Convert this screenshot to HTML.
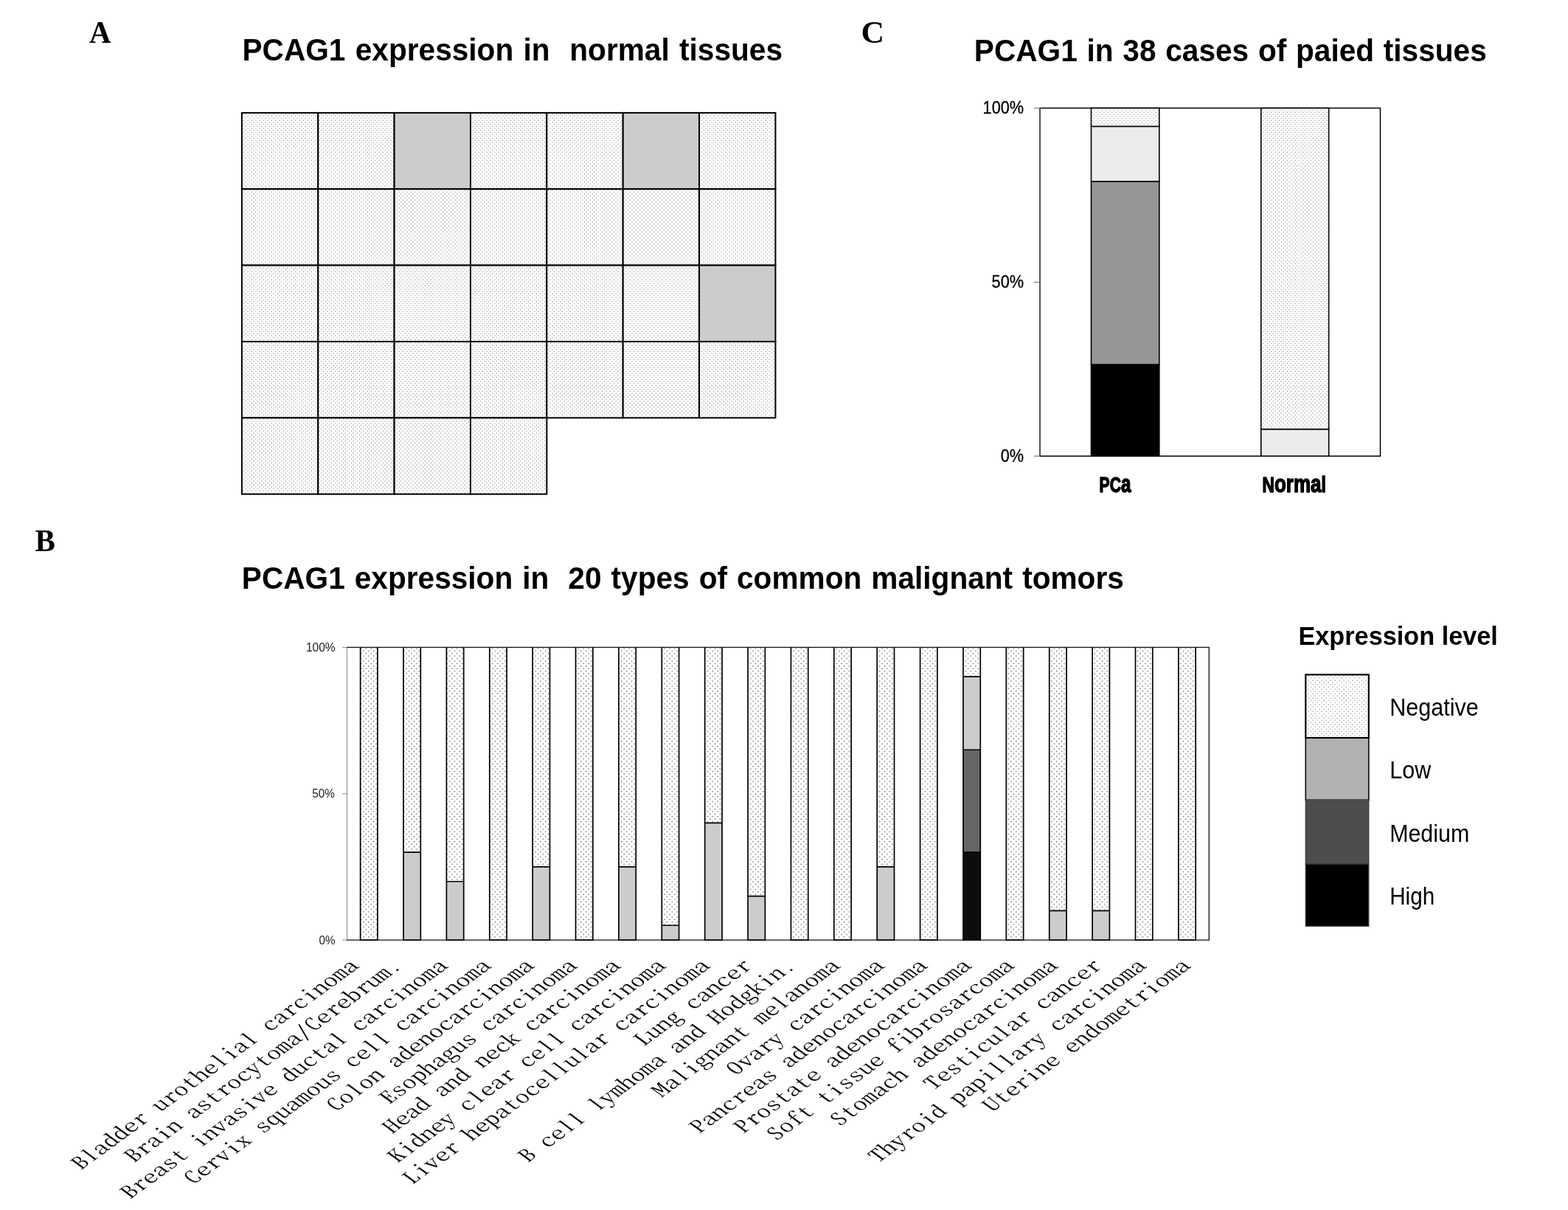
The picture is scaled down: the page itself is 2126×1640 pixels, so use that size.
<!DOCTYPE html>
<html lang="en"><head><meta charset="utf-8"><title>PCAG1 expression</title>
<style>
html,body{margin:0;padding:0;background:#fff;}
body{width:2126px;height:1640px;overflow:hidden;}
svg{display:block;}
.t{font-family:"Liberation Sans",sans-serif;font-weight:bold;font-size:42.25px;fill:#000;}
.p{font-family:"Liberation Serif",serif;font-weight:bold;font-size:42px;fill:#000;}
.ax{font-family:"Liberation Sans",sans-serif;fill:#000;stroke:#000;stroke-width:0.3px;}
.lg{font-family:"Liberation Sans",sans-serif;font-size:32.5px;fill:#000;}
.im{font-family:"Liberation Sans",sans-serif;font-weight:bold;fill:#000;stroke:#000;stroke-width:1.5px;stroke-linejoin:round;}
.xl{font-family:"Noto Serif CJK SC","Liberation Mono",monospace;font-feature-settings:"hwid" 1,"liga" 0,"clig" 0,"dlig" 0;font-variant-ligatures:none;font-weight:300;font-size:27.9px;fill:#000;text-anchor:end;}
</style></head><body>
<svg width="2126" height="1640" viewBox="0 0 2126 1640">
<defs>
<pattern id="dots" width="5.4" height="5.4" patternUnits="userSpaceOnUse">
<rect width="5.4" height="5.4" fill="#fff"/>
<rect x="0.6" y="0.6" width="1.1" height="1.1" fill="#707070"/>
<rect x="3.3" y="3.3" width="1.1" height="1.1" fill="#707070"/>
</pattern>
<pattern id="dotsB" width="6.86" height="6.8" patternUnits="userSpaceOnUse" patternTransform="translate(1.2,0.6)">
<rect width="6.86" height="6.8" fill="#fff"/>
<rect x="0.6" y="0.6" width="1.2" height="1.2" fill="#2a2a2a"/>
<rect x="4.03" y="4.0" width="1.2" height="1.2" fill="#2a2a2a"/>
</pattern>
<pattern id="dotsL" width="6" height="6" patternUnits="userSpaceOnUse">
<rect width="6" height="6" fill="#fff"/>
<rect x="0.6" y="0.6" width="1.1" height="1.1" fill="#707070"/>
<rect x="3.6" y="3.6" width="1.1" height="1.1" fill="#707070"/>
</pattern>
</defs>
<rect width="2126" height="1640" fill="#fff"/>
<text class="p" x="121.0" y="58" textLength="29.5" lengthAdjust="spacingAndGlyphs">A</text>
<text class="p" x="47.5" y="746.5" textLength="27.4" lengthAdjust="spacingAndGlyphs">B</text>
<text class="p" x="1167.6" y="58" textLength="31.5" lengthAdjust="spacingAndGlyphs">C</text>
<text class="t" x="328.5" y="82.0" textLength="732.5" lengthAdjust="spacingAndGlyphs" xml:space="preserve" style="word-spacing:2.1px">PCAG1 expression in  normal tissues</text>
<text class="t" x="1320.8" y="83.0" textLength="695" lengthAdjust="spacingAndGlyphs" style="word-spacing:1.5px">PCAG1 in 38 cases of paied tissues</text>
<text class="t" x="327.8" y="797.5" textLength="1196" lengthAdjust="spacingAndGlyphs" xml:space="preserve" style="word-spacing:1.8px">PCAG1 expression in  20 types of common malignant tomors</text>
<g stroke="#000" stroke-width="2">
<rect x="327.90" y="152.90" width="103.36" height="103.36" fill="url(#dots)"/>
<rect x="431.26" y="152.90" width="103.36" height="103.36" fill="url(#dots)"/>
<rect x="534.62" y="152.90" width="103.36" height="103.36" fill="#ccc"/>
<rect x="637.98" y="152.90" width="103.36" height="103.36" fill="url(#dots)"/>
<rect x="741.34" y="152.90" width="103.36" height="103.36" fill="url(#dots)"/>
<rect x="844.70" y="152.90" width="103.36" height="103.36" fill="#ccc"/>
<rect x="948.06" y="152.90" width="103.36" height="103.36" fill="url(#dots)"/>
<rect x="327.90" y="256.26" width="103.36" height="103.36" fill="url(#dots)"/>
<rect x="431.26" y="256.26" width="103.36" height="103.36" fill="url(#dots)"/>
<rect x="534.62" y="256.26" width="103.36" height="103.36" fill="url(#dots)"/>
<rect x="637.98" y="256.26" width="103.36" height="103.36" fill="url(#dots)"/>
<rect x="741.34" y="256.26" width="103.36" height="103.36" fill="url(#dots)"/>
<rect x="844.70" y="256.26" width="103.36" height="103.36" fill="url(#dots)"/>
<rect x="948.06" y="256.26" width="103.36" height="103.36" fill="url(#dots)"/>
<rect x="327.90" y="359.62" width="103.36" height="103.36" fill="url(#dots)"/>
<rect x="431.26" y="359.62" width="103.36" height="103.36" fill="url(#dots)"/>
<rect x="534.62" y="359.62" width="103.36" height="103.36" fill="url(#dots)"/>
<rect x="637.98" y="359.62" width="103.36" height="103.36" fill="url(#dots)"/>
<rect x="741.34" y="359.62" width="103.36" height="103.36" fill="url(#dots)"/>
<rect x="844.70" y="359.62" width="103.36" height="103.36" fill="url(#dots)"/>
<rect x="948.06" y="359.62" width="103.36" height="103.36" fill="#ccc"/>
<rect x="327.90" y="462.98" width="103.36" height="103.36" fill="url(#dots)"/>
<rect x="431.26" y="462.98" width="103.36" height="103.36" fill="url(#dots)"/>
<rect x="534.62" y="462.98" width="103.36" height="103.36" fill="url(#dots)"/>
<rect x="637.98" y="462.98" width="103.36" height="103.36" fill="url(#dots)"/>
<rect x="741.34" y="462.98" width="103.36" height="103.36" fill="url(#dots)"/>
<rect x="844.70" y="462.98" width="103.36" height="103.36" fill="url(#dots)"/>
<rect x="948.06" y="462.98" width="103.36" height="103.36" fill="url(#dots)"/>
<rect x="327.90" y="566.34" width="103.36" height="103.36" fill="url(#dots)"/>
<rect x="431.26" y="566.34" width="103.36" height="103.36" fill="url(#dots)"/>
<rect x="534.62" y="566.34" width="103.36" height="103.36" fill="url(#dots)"/>
<rect x="637.98" y="566.34" width="103.36" height="103.36" fill="url(#dots)"/>
</g>
<rect x="1410.1" y="146.5" width="461.4" height="471.7" fill="#fff" stroke="#000" stroke-width="1.5"/>
<line x1="1410.1" y1="146.5" x2="1410.1" y2="618.2" stroke="#555" stroke-width="1.7"/>
<line x1="1402.1" y1="618.2" x2="1410.1" y2="618.2" stroke="#777" stroke-width="1.2"/>
<line x1="1402.1" y1="382.4" x2="1410.1" y2="382.4" stroke="#777" stroke-width="1.2"/>
<line x1="1402.1" y1="146.5" x2="1410.1" y2="146.5" stroke="#777" stroke-width="1.2"/>
<rect x="1479.50" y="494.07" width="92.30" height="124.13" fill="#000" stroke="#000" stroke-width="1.6"/>
<rect x="1479.50" y="245.81" width="92.30" height="248.26" fill="#969696" stroke="#000" stroke-width="1.6"/>
<rect x="1479.50" y="171.33" width="92.30" height="74.48" fill="#ececec" stroke="#000" stroke-width="1.6"/>
<rect x="1479.50" y="146.50" width="92.30" height="24.83" fill="url(#dots)" stroke="#000" stroke-width="1.6"/>
<rect x="1709.80" y="581.64" width="91.90" height="36.56" fill="#ececec" stroke="#000" stroke-width="1.6"/>
<rect x="1709.80" y="146.50" width="91.90" height="435.14" fill="url(#dots)" stroke="#000" stroke-width="1.6"/>
<text class="ax" font-size="23.2" x="1332.6" y="153.8" textLength="55.5" lengthAdjust="spacingAndGlyphs">100%</text>
<text class="ax" font-size="23.2" x="1344.6" y="389.7" textLength="43.5" lengthAdjust="spacingAndGlyphs">50%</text>
<text class="ax" font-size="23.2" x="1356.8" y="625.5" textLength="31.3" lengthAdjust="spacingAndGlyphs">0%</text>
<text class="im" font-size="29.3" transform="translate(1490.6,667.0) scale(0.72,1)">PC<tspan font-size="33.5">a</tspan></text>
<text class="im" font-size="29.3" transform="translate(1711.6,667.0) scale(0.775,1)">N<tspan font-size="33.5">orma</tspan>l</text>
<rect x="470.5" y="877.4" width="1168.8" height="396.7" fill="#fff" stroke="none"/>
<rect x="488.65" y="877.40" width="23.30" height="396.70" fill="url(#dotsB)"/>
<path d="M488.65,877.40V1274.10H511.95V877.40" fill="none" stroke="#000" stroke-width="1.7"/>
<rect x="547.03" y="1155.09" width="23.30" height="119.01" fill="#ccc"/>
<rect x="547.03" y="877.40" width="23.30" height="277.69" fill="url(#dotsB)"/>
<path d="M547.03,877.40V1274.10H570.33V877.40M547.03,1155.09H570.33" fill="none" stroke="#000" stroke-width="1.7"/>
<rect x="605.41" y="1194.76" width="23.30" height="79.34" fill="#ccc"/>
<rect x="605.41" y="877.40" width="23.30" height="317.36" fill="url(#dotsB)"/>
<path d="M605.41,877.40V1274.10H628.71V877.40M605.41,1194.76H628.71" fill="none" stroke="#000" stroke-width="1.7"/>
<rect x="663.79" y="877.40" width="23.30" height="396.70" fill="url(#dotsB)"/>
<path d="M663.79,877.40V1274.10H687.09V877.40" fill="none" stroke="#000" stroke-width="1.7"/>
<rect x="722.17" y="1174.92" width="23.30" height="99.17" fill="#ccc"/>
<rect x="722.17" y="877.40" width="23.30" height="297.52" fill="url(#dotsB)"/>
<path d="M722.17,877.40V1274.10H745.47V877.40M722.17,1174.92H745.47" fill="none" stroke="#000" stroke-width="1.7"/>
<rect x="780.55" y="877.40" width="23.30" height="396.70" fill="url(#dotsB)"/>
<path d="M780.55,877.40V1274.10H803.85V877.40" fill="none" stroke="#000" stroke-width="1.7"/>
<rect x="838.93" y="1174.92" width="23.30" height="99.17" fill="#ccc"/>
<rect x="838.93" y="877.40" width="23.30" height="297.52" fill="url(#dotsB)"/>
<path d="M838.93,877.40V1274.10H862.23V877.40M838.93,1174.92H862.23" fill="none" stroke="#000" stroke-width="1.7"/>
<rect x="897.31" y="1254.26" width="23.30" height="19.83" fill="#ccc"/>
<rect x="897.31" y="877.40" width="23.30" height="376.86" fill="url(#dotsB)"/>
<path d="M897.31,877.40V1274.10H920.61V877.40M897.31,1254.26H920.61" fill="none" stroke="#000" stroke-width="1.7"/>
<rect x="955.69" y="1115.42" width="23.30" height="158.68" fill="#ccc"/>
<rect x="955.69" y="877.40" width="23.30" height="238.02" fill="url(#dotsB)"/>
<path d="M955.69,877.40V1274.10H978.99V877.40M955.69,1115.42H978.99" fill="none" stroke="#000" stroke-width="1.7"/>
<rect x="1014.07" y="1214.60" width="23.30" height="59.50" fill="#ccc"/>
<rect x="1014.07" y="877.40" width="23.30" height="337.19" fill="url(#dotsB)"/>
<path d="M1014.07,877.40V1274.10H1037.37V877.40M1014.07,1214.60H1037.37" fill="none" stroke="#000" stroke-width="1.7"/>
<rect x="1072.45" y="877.40" width="23.30" height="396.70" fill="url(#dotsB)"/>
<path d="M1072.45,877.40V1274.10H1095.75V877.40" fill="none" stroke="#000" stroke-width="1.7"/>
<rect x="1130.83" y="877.40" width="23.30" height="396.70" fill="url(#dotsB)"/>
<path d="M1130.83,877.40V1274.10H1154.13V877.40" fill="none" stroke="#000" stroke-width="1.7"/>
<rect x="1189.21" y="1174.92" width="23.30" height="99.17" fill="#ccc"/>
<rect x="1189.21" y="877.40" width="23.30" height="297.52" fill="url(#dotsB)"/>
<path d="M1189.21,877.40V1274.10H1212.51V877.40M1189.21,1174.92H1212.51" fill="none" stroke="#000" stroke-width="1.7"/>
<rect x="1247.59" y="877.40" width="23.30" height="396.70" fill="url(#dotsB)"/>
<path d="M1247.59,877.40V1274.10H1270.89V877.40" fill="none" stroke="#000" stroke-width="1.7"/>
<rect x="1305.97" y="1155.09" width="23.30" height="119.01" fill="#0d0d0d"/>
<rect x="1305.97" y="1016.24" width="23.30" height="138.84" fill="#666"/>
<rect x="1305.97" y="917.07" width="23.30" height="99.17" fill="#ccc"/>
<rect x="1305.97" y="877.40" width="23.30" height="39.67" fill="url(#dotsB)"/>
<path d="M1305.97,877.40V1274.10H1329.27V877.40M1305.97,1155.09H1329.27M1305.97,1016.24H1329.27M1305.97,917.07H1329.27" fill="none" stroke="#000" stroke-width="1.7"/>
<rect x="1364.35" y="877.40" width="23.30" height="396.70" fill="url(#dotsB)"/>
<path d="M1364.35,877.40V1274.10H1387.65V877.40" fill="none" stroke="#000" stroke-width="1.7"/>
<rect x="1422.73" y="1234.43" width="23.30" height="39.67" fill="#ccc"/>
<rect x="1422.73" y="877.40" width="23.30" height="357.03" fill="url(#dotsB)"/>
<path d="M1422.73,877.40V1274.10H1446.03V877.40M1422.73,1234.43H1446.03" fill="none" stroke="#000" stroke-width="1.7"/>
<rect x="1481.11" y="1234.43" width="23.30" height="39.67" fill="#ccc"/>
<rect x="1481.11" y="877.40" width="23.30" height="357.03" fill="url(#dotsB)"/>
<path d="M1481.11,877.40V1274.10H1504.41V877.40M1481.11,1234.43H1504.41" fill="none" stroke="#000" stroke-width="1.7"/>
<rect x="1539.49" y="877.40" width="23.30" height="396.70" fill="url(#dotsB)"/>
<path d="M1539.49,877.40V1274.10H1562.79V877.40" fill="none" stroke="#000" stroke-width="1.7"/>
<rect x="1597.87" y="877.40" width="23.30" height="396.70" fill="url(#dotsB)"/>
<path d="M1597.87,877.40V1274.10H1621.17V877.40" fill="none" stroke="#000" stroke-width="1.7"/>
<line x1="470.5" y1="877.4" x2="470.5" y2="1274.1" stroke="#8c8c8c" stroke-width="1"/>
<path d="M470.0,877.4 H1639.3 V1274.1 H470.0" fill="none" stroke="#111" stroke-width="1.3"/>
<line x1="464.2" y1="1274.1" x2="470.5" y2="1274.1" stroke="#8c8c8c" stroke-width="1.1"/>
<line x1="464.2" y1="1075.8" x2="470.5" y2="1075.8" stroke="#8c8c8c" stroke-width="1.1"/>
<line x1="464.2" y1="877.4" x2="470.5" y2="877.4" stroke="#8c8c8c" stroke-width="1.1"/>
<text class="ax" style="stroke:none;fill:#1a1a1a" font-size="16.9" x="414.9" y="882.8" textLength="39.8" lengthAdjust="spacingAndGlyphs">100%</text>
<text class="ax" style="stroke:none;fill:#1a1a1a" font-size="16.9" x="423.3" y="1081.2" textLength="30.6" lengthAdjust="spacingAndGlyphs">50%</text>
<text class="ax" style="stroke:none;fill:#1a1a1a" font-size="16.9" x="432.5" y="1279.5" textLength="22.0" lengthAdjust="spacingAndGlyphs">0%</text>
<text class="xl" transform="translate(488.0,1310.3) scale(1.371,1) rotate(-45) scale(1,0.81)">Bladder urothelial carcinoma</text>
<text class="xl" transform="translate(546.6,1310.3) scale(1.371,1) rotate(-45) scale(1,0.81)">Brain astrocytoma/Cerebrum.</text>
<text class="xl" transform="translate(608.9,1310.3) scale(1.371,1) rotate(-45) scale(1,0.81)">Breast invasive ductal carcinoma</text>
<text class="xl" transform="translate(667.5,1310.3) scale(1.371,1) rotate(-45) scale(1,0.81)">Cervix squamous cell carcinoma</text>
<text class="xl" transform="translate(725.8,1310.3) scale(1.371,1) rotate(-45) scale(1,0.81)">Colon adenocarcinoma</text>
<text class="xl" transform="translate(784.2,1310.3) scale(1.371,1) rotate(-45) scale(1,0.81)">Esophagus carcinoma</text>
<text class="xl" transform="translate(842.9,1310.3) scale(1.371,1) rotate(-45) scale(1,0.81)">Head and neck carcinoma</text>
<text class="xl" transform="translate(904.2,1310.3) scale(1.371,1) rotate(-45) scale(1,0.81)">Kidney clear cell carcinoma</text>
<text class="xl" transform="translate(964.3,1310.3) scale(1.371,1) rotate(-45) scale(1,0.81)">Liver hepatocellular carcinoma</text>
<text class="xl" transform="translate(1021.3,1310.3) scale(1.371,1) rotate(-45) scale(1,0.81)">Lung cancer</text>
<text class="xl" transform="translate(1080.4,1310.3) scale(1.371,1) rotate(-45) scale(1,0.81)">B cell lymhoma and Hodgkin.</text>
<text class="xl" transform="translate(1140.5,1310.3) scale(1.371,1) rotate(-45) scale(1,0.81)">Malignant melanoma</text>
<text class="xl" transform="translate(1200.6,1310.3) scale(1.371,1) rotate(-45) scale(1,0.81)">Ovary carcinoma</text>
<text class="xl" transform="translate(1259.0,1310.3) scale(1.371,1) rotate(-45) scale(1,0.81)">Pancreas adenocarcinoma</text>
<text class="xl" transform="translate(1318.7,1310.3) scale(1.371,1) rotate(-45) scale(1,0.81)">Prostate adenocarcinoma</text>
<text class="xl" transform="translate(1376.7,1310.3) scale(1.371,1) rotate(-45) scale(1,0.81)">Soft tissue fibrosarcoma</text>
<text class="xl" transform="translate(1435.8,1310.3) scale(1.371,1) rotate(-45) scale(1,0.81)">Stomach adenocarcinoma</text>
<text class="xl" transform="translate(1495.7,1310.3) scale(1.371,1) rotate(-45) scale(1,0.81)">Testicular cancer</text>
<text class="xl" transform="translate(1555.8,1310.3) scale(1.371,1) rotate(-45) scale(1,0.81)">Thyroid papillary carcinoma</text>
<text class="xl" transform="translate(1615.8,1310.3) scale(1.371,1) rotate(-45) scale(1,0.81)">Uterine endometrioma</text>
<text class="t" style="font-size:35.9px" x="1760.4" y="873.8" textLength="270.5" lengthAdjust="spacingAndGlyphs">Expression level</text>
<rect x="1770.3" y="1084.2" width="85.5" height="86.9" fill="#4d4d4d" stroke="#3a3a3a" stroke-width="1.3"/>
<rect x="1770.3" y="1171.1" width="85.5" height="84.2" fill="#000" stroke="#3a3a3a" stroke-width="1.3"/>
<rect x="1770.3" y="1000.0" width="85.5" height="84.2" fill="#b2b2b2" stroke="#111" stroke-width="1.7"/>
<rect x="1770.3" y="914.4" width="85.5" height="85.6" fill="url(#dotsL)" stroke="#000" stroke-width="2.1"/>
<line x1="1770.3" y1="1084.2" x2="1855.8" y2="1084.2" stroke="#4d4d4d" stroke-width="2"/>
<text class="lg" x="1884.2" y="969.7" textLength="120.5" lengthAdjust="spacingAndGlyphs">Negative</text>
<text class="lg" x="1884.2" y="1054.6" textLength="56" lengthAdjust="spacingAndGlyphs">Low</text>
<text class="lg" x="1884.2" y="1140.6" textLength="108" lengthAdjust="spacingAndGlyphs">Medium</text>
<text class="lg" x="1884.2" y="1226" textLength="61" lengthAdjust="spacingAndGlyphs">High</text>
</svg></body></html>
